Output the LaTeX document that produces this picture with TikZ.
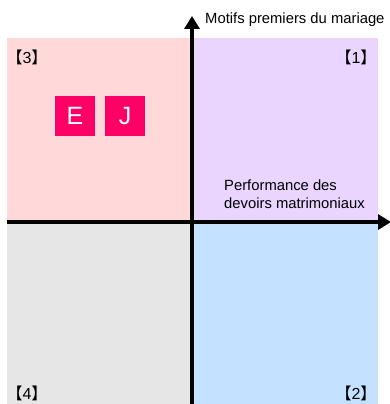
\documentclass[tikz,border=0pt]{standalone}
\usepackage{fontspec}
\setmainfont{Liberation Sans}
\newfontfamily\cjkfont{Noto Sans CJK JP}
\usetikzlibrary{arrows.meta}
\definecolor{qpink}{HTML}{FFD9D9}
\definecolor{qpurple}{HTML}{E9D5FF}
\definecolor{qgray}{HTML}{E6E6E6}
\definecolor{qblue}{HTML}{C4E2FF}
\definecolor{boxred}{HTML}{FF0066}
\tikzset{
  axis/.style={line width=4.5pt,-{Triangle[length=13pt,width=15pt]}},
  lbl/.style={inner sep=0pt,font=\fontsize{14.8}{18}\selectfont,text=black},
  qlbl/.style={inner sep=0pt,font=\fontsize{16}{18}\selectfont},
  letterbox/.style={fill=boxred,minimum size=40pt,inner sep=0pt,text=white,font=\fontsize{25}{25}\selectfont}
}
\newcommand{\qbr}[1]{{\cjkfont 【}#1{\cjkfont 】}}
\begin{document}
\begin{tikzpicture}[x=1pt,y=-1pt]
\useasboundingbox (0,0) rectangle (390,404);
\fill[qpink] (7,38) rectangle (191,222);
\fill[qpurple] (191,38) rectangle (378,222);
\fill[qgray] (7,222) rectangle (191,404);
\fill[qblue] (191,222) rectangle (378,404);
\coordinate (xs) at (7,222);
\coordinate (xe) at (391,222);
\coordinate (ys) at (192,404);
\coordinate (ye) at (192,16);
\draw[axis] (xs) -- (xe);
\draw[axis] (ys) -- (ye);
\node[lbl,anchor=west] (ylab) at (205,20) {Motifs premiers du mariage};
\node[lbl,anchor=west,align=left] (xlab) at (224,194) {Performance des\\devoirs matrimoniaux};
\node[qlbl] (q3) at (27,57) {\qbr{3}};
\node[qlbl] (q1) at (356,57) {\qbr{1}};
\node[qlbl] (q4) at (27,393) {\qbr{4}};
\node[qlbl] (q2) at (356,393) {\qbr{2}};
\node[letterbox] (e) at (75,116) {E};
\node[letterbox] (j) at (125,116) {J};
\end{tikzpicture}
\end{document}
